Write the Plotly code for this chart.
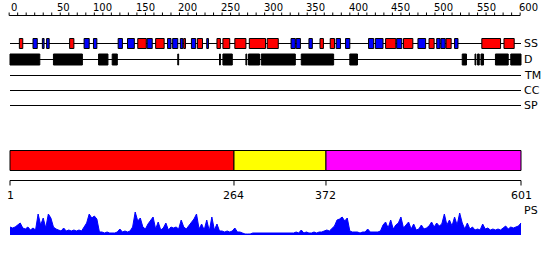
import plotly.graph_objects as go

# ---------------- data ----------------
seq_len = 601
ruler_labels = [0, 50, 100, 150, 200, 250, 300, 350, 400, 450, 500, 550, 600]
ruler_minor_step = 10

track_names = ["SS", "D", "TM", "CC", "SP"]

# secondary structure (residue ranges)
helix = [(12, 16), (71, 76), (151, 161), (172, 182), (205, 207), (221, 227),
         (244, 248), (251, 259), (265, 278), (282, 301), (303, 316), (365, 369),
         (377, 382), (442, 454), (463, 474), (493, 499), (513, 519), (555, 577),
         (581, 593)]
strand = [(28, 33), (39, 41), (44, 47), (88, 94), (99, 103), (128, 133),
          (139, 147), (162, 168), (186, 190), (192, 198), (201, 204), (214, 219),
          (232, 234), (331, 336), (337, 342), (352, 356), (384, 389), (395, 400),
          (422, 428), (430, 439), (455, 461), (480, 489), (502, 506), (507, 512),
          (523, 527)]
# disorder
disorder = [(1, 36), (52, 86), (105, 116), (121, 127), (198, 199), (247, 248),
            (251, 262), (278, 279), (281, 294), (296, 336), (343, 381), (400, 409),
            (532, 537), (547, 548), (550, 552), (554, 557), (571, 586), (589, 601)]

# domain boundaries
domain_bounds = [1, 264, 372, 601]
domain_colors = ["#FF0000", "#FFFF00", "#FF00FF"]

# PS profile (every 3rd residue from 1 to 601)
ps_step = 3
ps_score = [8, 7, 8, 10, 12, 7, 6, 8, 5, 7, 5, 21, 10, 17, 7, 21, 17, 8, 6, 5,
            4, 7, 4, 5, 4, 5, 4, 5, 4, 8, 12, 21, 17, 19, 16, 3, 3, 2, 3, 2,
            2, 2, 3, 6, 3, 4, 3, 4, 8, 23, 14, 17, 8, 6, 11, 15, 18, 6, 13, 5,
            7, 12, 5, 8, 7, 8, 6, 15, 8, 6, 9, 12, 16, 21, 6, 11, 5, 15, 4, 18,
            5, 11, 4, 4, 3, 4, 3, 4, 7, 3, 3, 2, 1, 1, 1, 2, 2, 2, 2, 2,
            2, 2, 2, 2, 2, 2, 2, 2, 2, 2, 2, 2, 3, 2, 5, 2, 3, 2, 2, 3,
            2, 3, 3, 4, 5, 4, 7, 9, 15, 16, 18, 14, 17, 4, 3, 3, 3, 2, 3, 3,
            6, 3, 3, 3, 3, 4, 10, 13, 7, 15, 6, 10, 12, 18, 7, 10, 13, 6, 11, 5,
            6, 10, 6, 7, 9, 13, 8, 12, 9, 11, 21, 10, 15, 9, 18, 10, 22, 12, 6, 12,
            6, 8, 5, 6, 5, 11, 6, 7, 5, 6, 5, 6, 5, 7, 9, 6, 8, 7, 8, 9, 12]
ps_residues = list(range(1, seq_len + 1, ps_step))

# ---------------- layout constants ----------------
W, H = 550, 260
px_per_res = 511 / 600
x_left_px = 10
r0 = 1 - x_left_px / px_per_res
r1 = r0 + W / px_per_res

row_y = {"SS": 43.5, "D": 59.5, "TM": 75.5, "CC": 90.5, "SP": 105.5}
ruler_y = 15.5
bar_top, bar_bot = 150.5, 170.5
axis_y = 180.5
ps_base_px, ps_top_px = 235, 210
FONT = "DejaVu Sans"

shapes = []
annotations = []

# ruler
shapes.append(dict(type="line", xref="x", yref="y", x0=0, x1=600, y0=ruler_y, y1=ruler_y,
                   line=dict(color="black", width=1)))
for t in range(0, 601, ruler_minor_step):
    shapes.append(dict(type="line", xref="x", yref="y", x0=t, x1=t, y0=ruler_y, y1=ruler_y - 3,
                       line=dict(color="black", width=1)))
for lab in ruler_labels:
    if lab == 0:
        annotations.append(dict(x=lab, y=7, xref="x", yref="y", text=str(lab), showarrow=False,
                                xanchor="left", yanchor="middle", font=dict(family=FONT, size=10, color="black")))
    else:
        annotations.append(dict(x=lab, y=7, xref="x", yref="y", text=str(lab), showarrow=False,
                                xanchor="right", yanchor="middle", xshift=20,
                                font=dict(family=FONT, size=10, color="black")))

# track lines and labels
for name in track_names:
    y = row_y[name]
    shapes.append(dict(type="line", xref="x", yref="y", x0=1, x1=seq_len, y0=y, y1=y,
                       line=dict(color="black", width=1)))
    annotations.append(dict(x=seq_len, y=y, xref="x", yref="y", text=name, showarrow=False,
                            xanchor="left", yanchor="middle", xshift=1,
                            font=dict(family=FONT, size=11, color="black")))

# SS boxes
for (s, e) in helix:
    shapes.append(dict(type="rect", xref="x", yref="y", x0=s, x1=e,
                       y0=row_y["SS"] - 5, y1=row_y["SS"] + 5,
                       fillcolor="#FF0000", line=dict(color="black", width=1)))
for (s, e) in strand:
    shapes.append(dict(type="rect", xref="x", yref="y", x0=s, x1=e,
                       y0=row_y["SS"] - 5, y1=row_y["SS"] + 5,
                       fillcolor="#0000FF", line=dict(color="black", width=1)))
# disorder boxes
for (s, e) in disorder:
    shapes.append(dict(type="rect", xref="x", yref="y", x0=s, x1=e,
                       y0=row_y["D"] - 5.5, y1=row_y["D"] + 5.5,
                       fillcolor="black", line=dict(color="black", width=1)))

# domain bar
for i, c in enumerate(domain_colors):
    shapes.append(dict(type="rect", xref="x", yref="y", x0=domain_bounds[i], x1=domain_bounds[i + 1],
                       y0=bar_top, y1=bar_bot, fillcolor=c, line=dict(color="black", width=1)))
shapes.append(dict(type="line", xref="x", yref="y", x0=1, x1=seq_len, y0=axis_y, y1=axis_y,
                   line=dict(color="black", width=1)))
for b in domain_bounds:
    shapes.append(dict(type="line", xref="x", yref="y", x0=b, x1=b, y0=axis_y, y1=axis_y + 5,
                       line=dict(color="black", width=1)))
    annotations.append(dict(x=b, y=195, xref="x", yref="y", text=str(b), showarrow=False,
                            xanchor="center", yanchor="middle",
                            font=dict(family=FONT, size=11, color="black")))
annotations.append(dict(x=seq_len, y=210, xref="x", yref="y", text="PS", showarrow=False,
                        xanchor="left", yanchor="middle", xshift=1,
                        font=dict(family=FONT, size=11, color="black")))

fig = go.Figure()
fig.add_trace(go.Scatter(x=ps_residues, y=ps_score, yaxis="y2", mode="lines",
                         fill="tozeroy", fillcolor="#0000FF",
                         line=dict(color="#0000FF", width=1), hoverinfo="skip",
                         showlegend=False))

fig.update_layout(
    width=W, height=H, margin=dict(l=0, r=0, t=0, b=0),
    paper_bgcolor="white", plot_bgcolor="white",
    xaxis=dict(range=[r0, r1], visible=False, fixedrange=True),
    yaxis=dict(range=[H, 0], visible=False, fixedrange=True, domain=[0, 1]),
    yaxis2=dict(range=[0, 25], visible=False, fixedrange=True, anchor="x",
                domain=[(H - ps_base_px) / H, (H - ps_top_px) / H]),
    shapes=shapes, annotations=annotations, showlegend=False,
)

fig.write_html("out.html")
